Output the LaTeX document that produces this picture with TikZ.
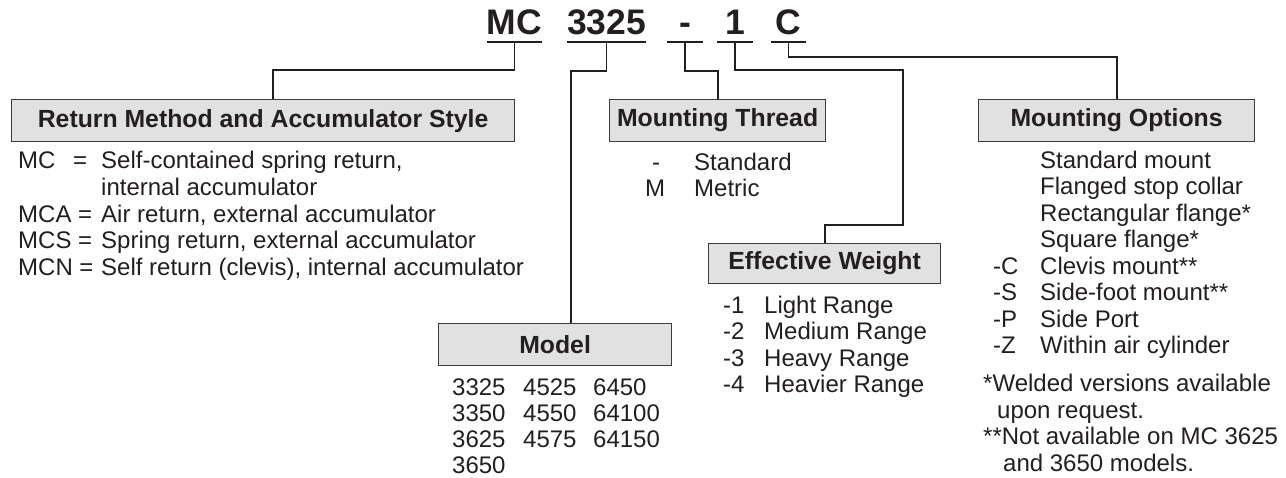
\documentclass[tikz,border=0pt]{standalone}
\usepackage{fontspec}
\setmainfont{Liberation Sans}
\definecolor{ink}{HTML}{231F20}
\definecolor{boxfill}{HTML}{E1E1E1}
\definecolor{boxline}{HTML}{3C3C3C}
\tikzset{
  txt/.style={anchor=base west, inner sep=0pt, font=\fontsize{24}{26}\selectfont, text=ink},
  txtc/.style={anchor=base, inner sep=0pt, font=\fontsize{24}{26}\selectfont, text=ink},
  hdr/.style={draw=boxline, fill=boxfill, line width=1.2pt, anchor=north west, inner sep=0pt,
              font=\bfseries\fontsize{24.8}{26}\selectfont, text=ink},
  conn/.style={draw=ink, line width=1.8pt},
  uline/.style={draw=ink, line width=2.2pt},
  ttl/.style={anchor=base, inner sep=0pt, font=\bfseries\fontsize{35.5}{36}\selectfont, text=ink}
}
\begin{document}
\begin{tikzpicture}[x=1pt,y=-1pt]
\useasboundingbox (0,0) rectangle (1286,477);
\fill[white] (0,0) rectangle (1286,477);

% title
\node[ttl] (tMC) at (514.5,34) {MC};
\node[ttl] (t3325) at (606.5,34) {3325};
\node[ttl] (tD) at (685,34) {-};
\node[ttl] (t1) at (735,34) {1};
\node[ttl] (tC) at (788.5,34) {C};
\coordinate (uMC) at (514.5,42);
\coordinate (u3325) at (606.5,42);
\coordinate (uD) at (685,42);
\coordinate (u1) at (735,42);
\coordinate (uC) at (788.5,42);
\draw[uline] ([xshift=-27.5pt]uMC) -- ([xshift=27.5pt]uMC);
\draw[uline] ([xshift=-39.5pt]u3325) -- ([xshift=39.5pt]u3325);
\draw[uline] ([xshift=-18pt]uD) -- ([xshift=18pt]uD);
\draw[uline] ([xshift=-18pt]u1) -- ([xshift=18pt]u1);
\draw[uline] ([xshift=-17.5pt]uC) -- ([xshift=17.5pt]uC);

% header boxes
\node[hdr, minimum width=503pt, minimum height=42pt] (ret) at (11,99) {Return Method and Accumulator Style};
\node[hdr, minimum width=216pt, minimum height=42pt] (thread) at (609,99) {Mounting Thread};
\node[hdr, minimum width=232pt, minimum height=40pt] (eff) at (708,243) {Effective Weight};
\node[hdr, minimum width=276pt, minimum height=42pt] (opt) at (978,99) {Mounting Options};
\node[hdr, minimum width=233pt, minimum height=42pt] (model) at (438,323) {Model};

% connectors
\coordinate (bend1) at (903,225);
\draw[conn] (uMC) -- ++(0,28) -| ([xshift=262pt]ret.north west);
\draw[conn] (u3325) -- ++(0,29) -| ([xshift=133pt]model.north west);
\draw[conn] (uD) -- ++(0,29) -| (thread.north);
\draw[conn] (u1) -- ++(0,28) -| (bend1) -| (eff.north);
\draw[conn] (uC) -- ++(0,15) -| (opt.north);

% return method list
\node[txt] (r1a) at (18,168) {MC};
\node[txt] (r1b) at (73,168) {=};
\node[txt] (r1c) at (101,168) {Self-contained spring return,};
\node[txt] (r2c) at (101,195) {internal accumulator};
\node[txt] (r3a) at (18,222) {MCA =};
\node[txt] (r3c) at (101,222) {Air return, external accumulator};
\node[txt] (r4a) at (18,248.5) {MCS =};
\node[txt] (r4c) at (101,248.5) {Spring return, external accumulator};
\node[txt] (r5a) at (18,275.5) {MCN =};
\node[txt] (r5c) at (101,275.5) {Self return (clevis), internal accumulator};

% mounting thread list
\node[txtc] (m1a) at (656,170) {-};
\node[txt] (m1b) at (694,170) {Standard};
\node[txtc] (m2a) at (655,196) {M};
\node[txt] (m2b) at (694,196) {Metric};

% effective weight list
\node[txt] (e1a) at (723,313) {-1};
\node[txt] (e1b) at (764,313) {Light Range};
\node[txt] (e2a) at (723,339.5) {-2};
\node[txt] (e2b) at (764,339.5) {Medium Range};
\node[txt] (e3a) at (723,366) {-3};
\node[txt] (e3b) at (764,366) {Heavy Range};
\node[txt] (e4a) at (723,392.5) {-4};
\node[txt] (e4b) at (764,392.5) {Heavier Range};

% model list
\node[txt] (n11) at (452,395.5) {3325};
\node[txt] (n12) at (523,395.5) {4525};
\node[txt] (n13) at (593,395.5) {6450};
\node[txt] (n21) at (452,421.5) {3350};
\node[txt] (n22) at (523,421.5) {4550};
\node[txt] (n23) at (593,421.5) {64100};
\node[txt] (n31) at (452,447.5) {3625};
\node[txt] (n32) at (523,447.5) {4575};
\node[txt] (n33) at (593,447.5) {64150};
\node[txt] (n41) at (452,473.5) {3650};

% mounting options list
\node[txt] (o1) at (1040,168) {Standard mount};
\node[txt] (o2) at (1040,194.5) {Flanged stop collar};
\node[txt] (o3) at (1040,221) {Rectangular flange*};
\node[txt] (o4) at (1040,247.5) {Square flange*};
\node[txt] (o5a) at (993,274) {-C};
\node[txt] (o5) at (1040,274) {Clevis mount**};
\node[txt] (o6a) at (993,300.5) {-S};
\node[txt] (o6) at (1040,300.5) {Side-foot mount**};
\node[txt] (o7a) at (993,327) {-P};
\node[txt] (o7) at (1040,327) {Side Port};
\node[txt] (o8a) at (993,353.5) {-Z};
\node[txt] (o8) at (1040,353.5) {Within air cylinder};
\node[txt] (f1) at (983,391) {*Welded versions available};
\node[txt] (f2) at (997,418) {upon request.};
\node[txt] (f3) at (983,444.5) {**Not available on MC 3625};
\node[txt] (f4) at (1003,471) {and 3650 models.};
\end{tikzpicture}
\end{document}
